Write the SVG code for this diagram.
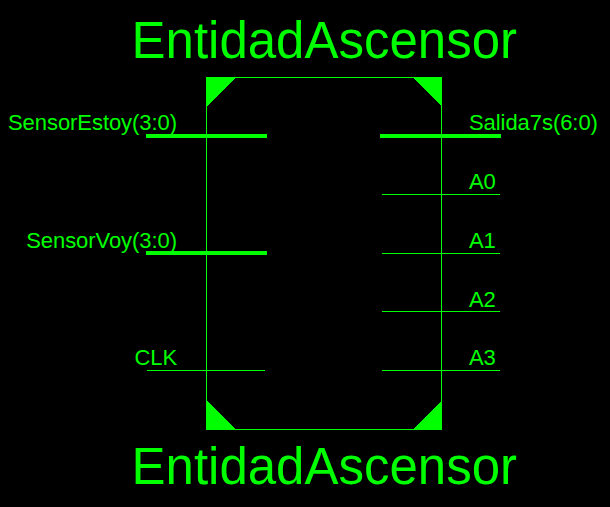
<svg xmlns="http://www.w3.org/2000/svg" width="610" height="507" viewBox="0 0 610 507">
<style>
text{font-family:"Liberation Sans",Arial,sans-serif;fill:#00ff00}
.t{font-size:51px}
.l{font-size:22px;letter-spacing:-.06px}
.e{text-anchor:end}
.thin{stroke:#00ff00;stroke-width:1;fill:none;shape-rendering:crispEdges}
.bus{stroke:#00ff00;stroke-width:4;fill:none;shape-rendering:crispEdges}
.c{fill:#00ff00;shape-rendering:crispEdges}
</style>
<rect width="610" height="507" fill="#000"/>
<g id="entity">
<rect class="thin" x="206.500" y="77.500" width="235" height="352"/>
<polygon class="c" points="206,77 236,77 206,107"/>
<polygon class="c" points="442,77 412,77 442,107"/>
<polygon class="c" points="206,430 236,430 206,400"/>
<polygon class="c" points="442,430 412,430 442,400"/>
<text class="t" x="131.500" y="58">EntidadAscensor</text>
<text class="t" x="131.500" y="484">EntidadAscensor</text>
</g>
<g id="connectors">
<line class="bus" x1="146" y1="136" x2="267" y2="136"/>
<line class="bus" x1="146" y1="253" x2="267" y2="253"/>
<line class="thin" x1="147" y1="370.500" x2="265" y2="370.500"/>
<line class="bus" x1="380" y1="136" x2="501" y2="136"/>
<line class="thin" x1="382" y1="194.500" x2="500" y2="194.500"/>
<line class="thin" x1="382" y1="253.500" x2="500" y2="253.500"/>
<line class="thin" x1="382" y1="311.500" x2="500" y2="311.500"/>
<line class="thin" x1="382" y1="370.500" x2="500" y2="370.500"/>
</g>
<g id="port-SensorEstoy"><text class="l e" x="177" y="130">SensorEstoy(3:0)</text></g>
<g id="port-SensorVoy"><text class="l e" x="177" y="248">SensorVoy(3:0)</text></g>
<g id="port-CLK"><text class="l e" x="177" y="365">CLK</text></g>
<g id="port-Salida7s"><text class="l" x="469" y="130">Salida7s(6:0)</text></g>
<g id="port-A0"><text class="l" x="469" y="189">A0</text></g>
<g id="port-A1"><text class="l" x="469" y="248">A1</text></g>
<g id="port-A2"><text class="l" x="469" y="307">A2</text></g>
<g id="port-A3"><text class="l" x="469" y="365">A3</text></g>
</svg>
